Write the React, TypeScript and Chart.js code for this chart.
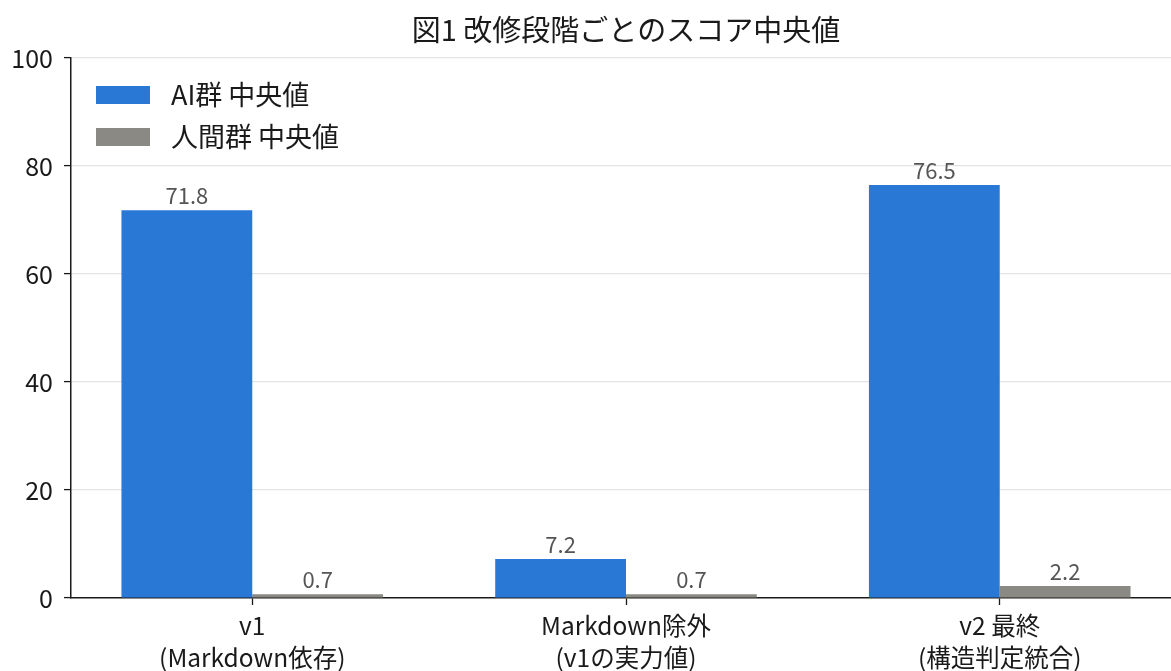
import React, { useEffect, useRef } from "react";
import { Chart, registerables } from "chart.js";

Chart.register(...registerables);

const TITLE = "図1 改修段階ごとのスコア中央値";
const CATEGORIES: string[][] = [
  ["v1", "(Markdown依存)"],
  ["Markdown除外", "(v1の実力値)"],
  ["v2 最終", "(構造判定統合)"],
];
const SERIES_LABELS = ["AI群 中央値", "人間群 中央値"];
const AI_MEDIANS = [71.8, 7.2, 76.5];
const HUMAN_MEDIANS = [0.7, 0.7, 2.2];
const Y_MIN = 0;
const Y_MAX = 100;
const Y_STEP = 20;

const FONT = '"Noto Sans CJK JP", "Noto Sans", sans-serif';
const BLUE = "#2A78D6";
const GRAY = "#8A8983";

const valueLabels = {
  id: "valueLabels",
  afterDatasetsDraw(chart: any) {
    const { ctx } = chart;
    ctx.save();
    ctx.font = `22px ${FONT}`;
    ctx.fillStyle = "#555555";
    ctx.textAlign = "center";
    ctx.textBaseline = "alphabetic";
    chart.data.datasets.forEach((ds: any, di: number) => {
      const meta = chart.getDatasetMeta(di);
      meta.data.forEach((el: any, i: number) => {
        const v = ds.data[i].y;
        ctx.fillText(v.toFixed(1), el.x, el.y - 6);
      });
    });
    ctx.restore();
  },
};

const insideLegend = {
  id: "insideLegend",
  afterDraw(chart: any) {
    const { ctx, chartArea } = chart;
    ctx.save();
    chart.data.datasets.forEach((ds: any, i: number) => {
      const x = chartArea.left + 25;
      const y = chartArea.top + 28 + i * 42;
      ctx.fillStyle = ds.backgroundColor;
      ctx.fillRect(x, y, 54, 18);
      ctx.fillStyle = "#1a1a1a";
      ctx.font = `27px ${FONT}`;
      ctx.textAlign = "left";
      ctx.textBaseline = "middle";
      ctx.fillText(ds.label, x + 75, y + 9);
    });
    ctx.restore();
  },
};

export default function App() {
  const ref = useRef<HTMLCanvasElement>(null);
  useEffect(() => {
    if (!ref.current) return;
    const toPoints = (arr: number[]) => arr.map((y, i) => ({ x: i, y }));
    const chart = new Chart(ref.current, {
      type: "bar",
      data: {
        datasets: [
          {
            label: SERIES_LABELS[0],
            data: toPoints(AI_MEDIANS) as any,
            backgroundColor: BLUE,
            categoryPercentage: 0.7,
            barPercentage: 1,
          },
          {
            label: SERIES_LABELS[1],
            data: toPoints(HUMAN_MEDIANS) as any,
            backgroundColor: GRAY,
            categoryPercentage: 0.7,
            barPercentage: 1,
          },
        ],
      },
      options: {
        responsive: false,
        animation: false,
        devicePixelRatio: 1,
        layout: { padding: { left: 0, right: 9, top: 0, bottom: 0 } },
        plugins: {
          legend: { display: false },
          tooltip: { enabled: false },
          title: {
            display: true,
            text: TITLE,
            fullSize: false,
            color: "#1a1a1a",
            font: { family: FONT, size: 29, weight: "normal", lineHeight: 1.2 },
            padding: { top: 12.6, bottom: 10.6 },
          },
        },
        scales: {
          x: {
            type: "linear",
            min: -0.485,
            max: 2.485,
            offset: false,
            afterBuildTicks: (scale: any) => {
              scale.ticks = CATEGORIES.map((_, i) => ({ value: i }));
            },
            afterFit: (scale: any) => {
              scale.height = 73;
            },
            ticks: {
              autoSkip: false,
              maxRotation: 0,
              padding: 5,
              color: "#1a1a1a",
              font: { family: FONT, size: 24.5, lineHeight: 1.306 },
              callback: (v: any) => CATEGORIES[Math.round(Number(v))] ?? "",
            },
            grid: {
              display: true,
              offset: false,
              drawOnChartArea: false,
              drawTicks: true,
              tickLength: 7,
              tickColor: "#1a1a1a",
              tickWidth: 1.3,
            },
            border: { display: true, color: "#1a1a1a", width: 1.5 },
          },
          y: {
            min: Y_MIN,
            max: Y_MAX,
            afterFit: (scale: any) => {
              scale.width = 71;
            },
            ticks: {
              stepSize: Y_STEP,
              padding: 11,
              color: "#1a1a1a",
              font: { family: FONT, size: 25 },
            },
            grid: {
              color: (c: any) => (c.tick && c.tick.value === 0 ? "rgba(0,0,0,0)" : "#e3e3e3"),
              lineWidth: 1.2,
              drawTicks: true,
              tickLength: 7,
              tickColor: "#1a1a1a",
              tickWidth: 1.3,
            },
            border: { display: true, color: "#1a1a1a", width: 1.5 },
          },
        },
      },
      plugins: [valueLabels, insideLegend],
    });
    return () => chart.destroy();
  }, []);

  return (
    <div
      style={{
        position: "fixed",
        left: 0,
        top: 0,
        width: 1171,
        height: 671,
        overflow: "hidden",
        background: "#ffffff",
      }}
    >
      <canvas ref={ref} width={1190} height={671} style={{ width: 1190, height: 671, display: "block" }} />
    </div>
  );
}
